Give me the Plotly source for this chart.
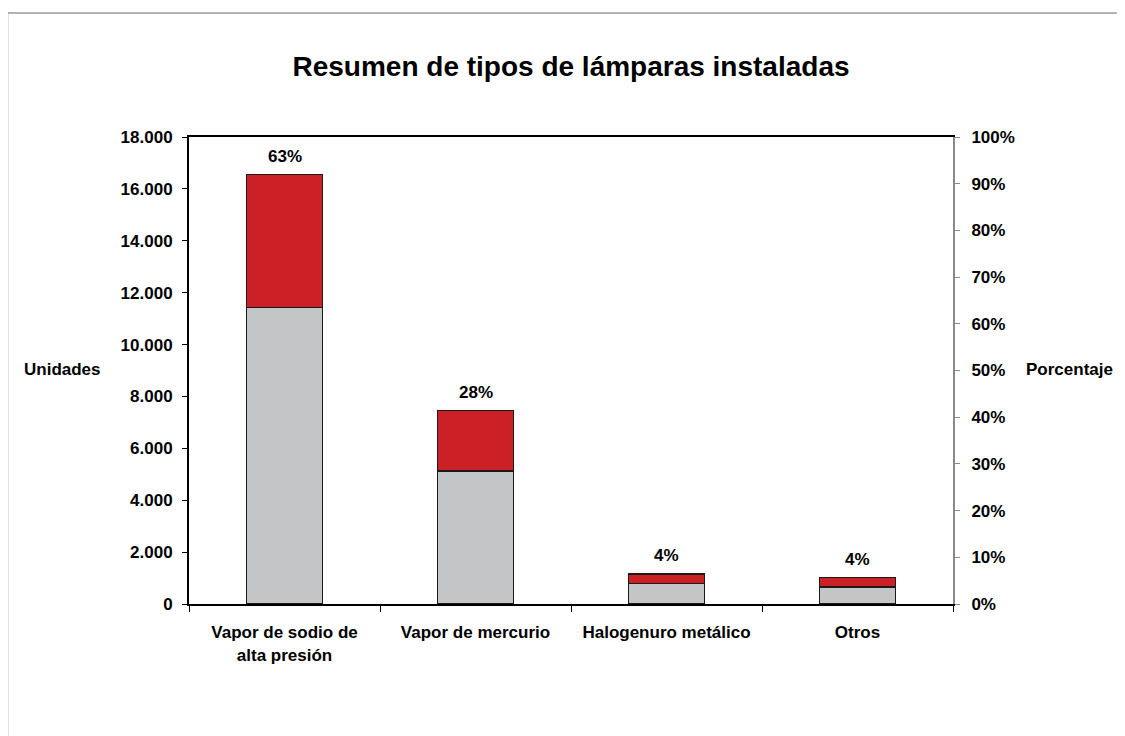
import plotly.graph_objects as go

# data
categorias = ["Vapor de sodio de<br>alta presión", "Vapor de mercurio",
              "Halogenuro metálico", "Otros"]
parte_gris = [11420, 5130, 780, 660]
parte_roja = [5130, 2320, 380, 370]
porcentajes = [0.63, 0.28, 0.04, 0.04]

FONT = "Liberation Sans, Arial, sans-serif"
GRIS = "#c4c5c7"
ROJO = "#cc2027"
SZ = 17

totales = [g + r for g, r in zip(parte_gris, parte_roja)]

fig = go.Figure()
fig.add_bar(x=categorias, y=parte_gris, marker=dict(color=GRIS, line=dict(color="#1a1a1a", width=1.3)),
            width=0.4, showlegend=False, hoverinfo="skip")
fig.add_bar(x=categorias, y=parte_roja, marker=dict(color=ROJO, line=dict(color="#1a1a1a", width=1.3)),
            width=0.4, showlegend=False, hoverinfo="skip")
# invisible trace so the right axis is drawn
fig.add_scatter(x=categorias, y=porcentajes, yaxis="y2", mode="markers",
                marker=dict(opacity=0), showlegend=False, hoverinfo="skip")

# percentage labels above each bar
for cat, tot, p in zip(categorias, totales, porcentajes):
    fig.add_annotation(x=cat, y=tot, text=f"<b>{p:.0%}</b>", showarrow=False,
                       yshift=18, font=dict(size=SZ, color="black", family=FONT))

fig.add_annotation(x=-0.165, y=0.503, xref="paper", yref="paper", text="<b>Unidades</b>",
                   xanchor="center", showarrow=False, font=dict(size=SZ, color="black", family=FONT))
fig.add_annotation(x=1.152, y=0.503, xref="paper", yref="paper", text="<b>Porcentaje</b>",
                   xanchor="center", showarrow=False, font=dict(size=SZ, color="black", family=FONT))

# outer chart border
fig.add_shape(type="rect", xref="paper", yref="paper", x0=-0.2375, x1=1.35, y0=-0.4, y1=1.2655,
              line=dict(color="#9a9a9a", width=1.5), layer="below")

# the page body adds 8px around the figure, so size and margins are reduced by that
fig.update_layout(
    width=1117, height=728,
    barmode="stack", bargap=0.6,
    separators=",.",
    plot_bgcolor="white", paper_bgcolor="white",
    margin=dict(l=181, r=172, t=129, b=132),
    font=dict(family=FONT, size=SZ, color="black"),
    title=dict(text="<b>Resumen de tipos de lámparas instaladas</b>", x=0.5, xanchor="center",
               xref="paper", y=0.92, yanchor="middle", font=dict(size=28, family=FONT, color="black")),
    xaxis=dict(showline=True, linecolor="black", linewidth=2, mirror=True,
               ticks="outside", tickson="boundaries", ticklen=6, tickcolor="black",
               tickfont=dict(size=SZ, family=FONT, weight="bold"), showgrid=False,
               ticklabelstandoff=12),
    yaxis=dict(range=[0, 18000], dtick=2000, tickformat=",", showline=True, linecolor="black",
               linewidth=2, ticks="outside", ticklen=5, tickcolor="black", showgrid=False,
               zeroline=False, tickfont=dict(size=SZ, family=FONT, weight="bold"), ticklabelstandoff=6),
    yaxis2=dict(range=[0, 1], dtick=0.1, tickformat=".0%", overlaying="y", side="right",
                showline=True, linecolor="#8a8a8a", linewidth=2, ticks="outside", ticklen=5,
                tickcolor="#8a8a8a", showgrid=False, zeroline=False,
                tickfont=dict(size=SZ, family=FONT, weight="bold"), ticklabelstandoff=8),
)

fig.write_html("out.html")
